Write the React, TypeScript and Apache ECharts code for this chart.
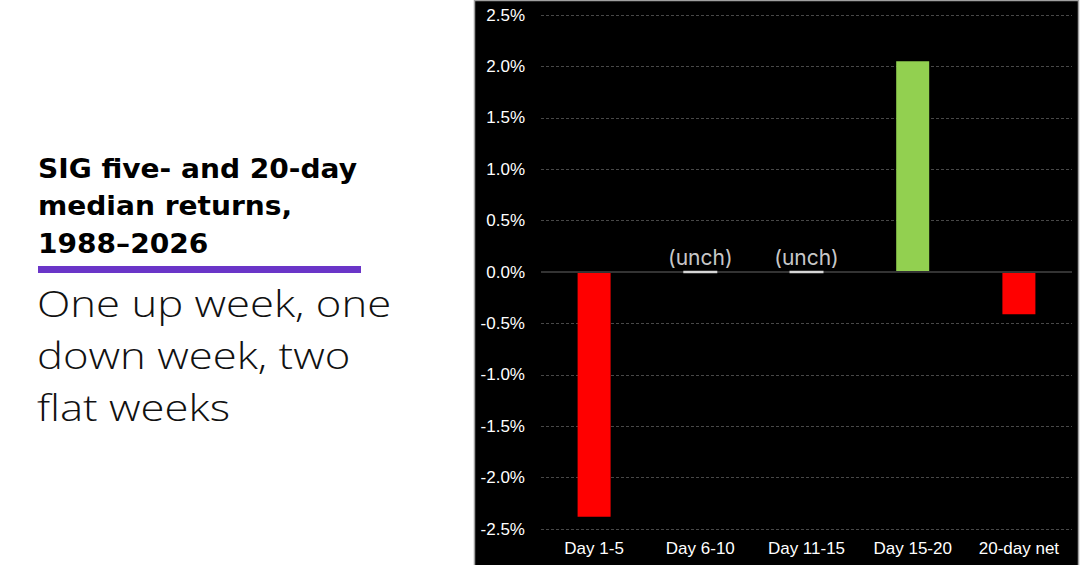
import React, { useEffect, useRef } from "react";
import * as echarts from "echarts";

const categories = ["Day 1-5", "Day 6-10", "Day 11-15", "Day 15-20", "20-day net"];
const medianReturns = [-2.38, 0, 0, 2.05, -0.41];
const unchangedLabel = "(unch)";
const yTicks = { min: -2.5, max: 2.5, interval: 0.5 };
const titleLines = ["SIG five- and 20-day", "median returns,", "1988\u20132026"];
const subtitleLines = ["One up week, one", "down week, two", "flat weeks"];

export default function App() {
  const ref = useRef<HTMLDivElement>(null);

  useEffect(() => {
    document.body.style.margin = "0";
    const chart = echarts.init(ref.current!, undefined, { renderer: "svg" });
    const barData = medianReturns.map((v) => ({
      value: v,
      itemStyle: { color: v > 0 ? "#92d050" : v < 0 ? "#ff0000" : "transparent" },
    }));
    const unchData = medianReturns.map((v) => (v === 0 ? 0 : null));

    const titleEls = titleLines.map((t, i) => ({
      type: "text",
      x: 38,
      y: 168.5 + i * 37.5,
      scaleX: 1.08,
      style: {
        text: t,
        fill: "#000000",
        fontSize: 26,
        fontWeight: "bold",
        fontFamily: "DejaVu Sans, sans-serif",
        verticalAlign: "middle",
        align: "left",
      },
    }));
    const subtitleEls = subtitleLines.map((t, i) => ({
      type: "text",
      x: 37,
      y: 303 + i * 52,
      scaleX: 1.18,
      style: {
        text: t,
        fill: "#111111",
        fontSize: 37,
        fontWeight: 300,
        fontFamily: "Open Sans, sans-serif",
        verticalAlign: "middle",
        align: "left",
      },
    }));

    chart.setOption({
      animation: false,
      backgroundColor: "#ffffff",
      grid: { left: 541, right: 8, top: 15, bottom: 36, containLabel: false },
      xAxis: {
        type: "category",
        data: categories,
        axisLine: { show: false, onZero: false },
        axisTick: { show: false },
        axisLabel: {
          color: "#ffffff",
          fontSize: 17,
          fontFamily: "Liberation Sans, Arial, sans-serif",
          margin: 11,
        },
        splitLine: { show: false },
      },
      yAxis: {
        type: "value",
        min: yTicks.min,
        max: yTicks.max,
        interval: yTicks.interval,
        axisLine: { show: false },
        axisTick: { show: false },
        axisLabel: {
          color: "#ffffff",
          fontSize: 17,
          fontFamily: "Liberation Sans, Arial, sans-serif",
          margin: 16,
          formatter: (v: number) => v.toFixed(1) + "%",
        },
        splitLine: { show: true, lineStyle: { color: "#484848", type: [3, 2], width: 1 } },
      },
      series: [
        {
          type: "bar",
          data: barData,
          barWidth: 33,
          markLine: {
            silent: true,
            symbol: ["none", "none"],
            label: { show: false },
            lineStyle: { color: "#333333", width: 2, type: "solid" },
            data: [{ yAxis: 0 }],
            z: 3,
          },
        },
        {
          type: "scatter",
          data: unchData,
          symbol: "rect",
          symbolSize: [34, 2.5],
          itemStyle: { color: "#ffffff" },
          z: 5,
          label: {
            show: true,
            position: "top",
            distance: 3,
            formatter: () => unchangedLabel,
            color: "#ffffff",
            fontSize: 21,
            fontFamily: "Inter, Roboto, sans-serif",
          },
        },
      ],
      graphic: [
        {
          type: "rect",
          z: -100,
          silent: true,
          shape: { x: 474.5, y: 0.5, width: 604, height: 566 },
          style: { fill: "#000000", stroke: "#a0a0a0", lineWidth: 1.5 },
        },
        ...titleEls,
        {
          type: "rect",
          silent: true,
          shape: { x: 38, y: 266, width: 323, height: 7 },
          style: { fill: "#6a35c8" },
        },
        ...subtitleEls,
      ],
    });
    return () => chart.dispose();
  }, []);

  return <div ref={ref} style={{ width: 1080, height: 565 }} />;
}
